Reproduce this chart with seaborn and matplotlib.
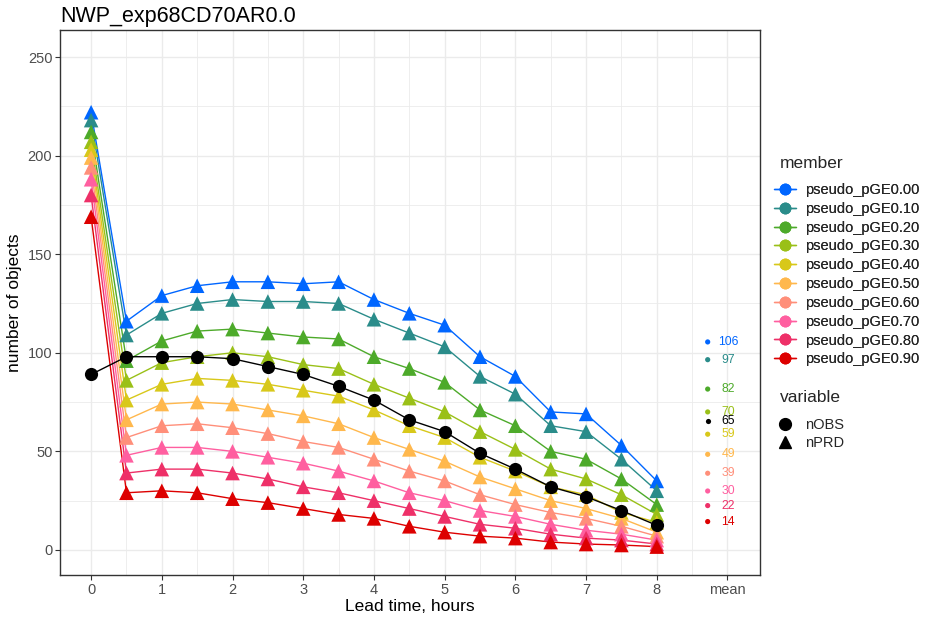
import numpy as np
import pandas as pd
import matplotlib
matplotlib.use("Agg")
import matplotlib.pyplot as plt
import seaborn as sns
from matplotlib.lines import Line2D

# ---------------- data ----------------
lead_hours = [0, 0.5, 1, 1.5, 2, 2.5, 3, 3.5, 4, 4.5, 5, 5.5, 6, 6.5, 7, 7.5, 8]
members = ["pseudo_pGE0.00", "pseudo_pGE0.10", "pseudo_pGE0.20", "pseudo_pGE0.30",
           "pseudo_pGE0.40", "pseudo_pGE0.50", "pseudo_pGE0.60", "pseudo_pGE0.70",
           "pseudo_pGE0.80", "pseudo_pGE0.90"]
member_colors = ["#0066FF", "#2A8C8A", "#4DAA2A", "#9AC018", "#D8C81A",
                 "#FFB84D", "#FF8F7A", "#FF5FA0", "#EE3068", "#DD0000"]

nPRD_pGE000 = [222, 116, 129, 134, 136, 136, 135, 136, 127, 120, 114, 98, 88, 70, 69, 53, 35]
nPRD_pGE010 = [218, 109, 120, 125, 127, 126, 126, 125, 117, 110, 103, 88, 79, 63, 60, 46, 30]
nPRD_pGE020 = [212, 96, 106, 111, 112, 110, 108, 107, 98, 92, 85, 71, 63, 50, 46, 36, 23]
nPRD_pGE030 = [207, 86, 95, 98, 100, 98, 94, 92, 84, 77, 70, 60, 51, 41, 36, 28, 18]
nPRD_pGE040 = [203, 76, 84, 87, 86, 84, 81, 78, 71, 63, 57, 47, 40, 32, 28, 19, 14]
nPRD_pGE050 = [199, 66, 74, 75, 74, 71, 68, 64, 57, 51, 45, 37, 31, 25, 21, 16, 9]
nPRD_pGE060 = [194, 57, 63, 64, 62, 59, 55, 52, 46, 40, 35, 28, 23, 19, 16, 12, 7]
nPRD_pGE070 = [188, 48, 52, 52, 50, 47, 44, 40, 35, 29, 25, 20, 17, 13, 10, 8, 5]
nPRD_pGE080 = [180, 39, 41, 41, 39, 36, 32, 29, 25, 21, 17, 13, 11, 8, 6, 5, 3]
nPRD_pGE090 = [169, 29, 30, 29, 26, 24, 21, 18, 16, 12, 9, 7, 6, 4, 3, 2.5, 1.7]
nOBS = [89, 98, 98, 98, 97, 93, 89, 83, 76, 66, 60, 49, 41, 32, 27, 20, 12.5]

mean_labels = ["106", "97", "82", "70", "59", "49", "39", "30", "22", "14"]
mean_values = [105.5, 96.5, 81.6, 70, 58.7, 48.5, 38.9, 29.9, 22.5, 14.4]
obs_mean_label = "65"
obs_mean_value = 65.3

x_ticks = [0, 1, 2, 3, 4, 5, 6, 7, 8, 9]
x_ticklabels = ["0", "1", "2", "3", "4", "5", "6", "7", "8", "mean"]
y_ticks = [0, 50, 100, 150, 200, 250]

prd_series = [nPRD_pGE000, nPRD_pGE010, nPRD_pGE020, nPRD_pGE030, nPRD_pGE040,
              nPRD_pGE050, nPRD_pGE060, nPRD_pGE070, nPRD_pGE080, nPRD_pGE090]
rows = []
for m, vals in zip(members, prd_series):
    for h, v in zip(lead_hours, vals):
        rows.append({"lead": h, "member": m, "value": v})
df_prd = pd.DataFrame(rows)
df_obs = pd.DataFrame({"lead": lead_hours, "value": nOBS})
df_mean = pd.DataFrame({"member": members, "label": mean_labels, "value": mean_values})

# ---------------- style ----------------
sns.set_theme(style="whitegrid")
plt.rcParams["font.family"] = ["Liberation Sans", "DejaVu Sans"]

fig = plt.figure(figsize=(9.25, 6.17), dpi=100)
ax = fig.add_axes([60 / 925, 42 / 617, 700 / 925, 545 / 617])
palette = dict(zip(members, member_colors))

# lines (reverse order so blue ends on top)
sns.lineplot(data=df_prd, x="lead", y="value", hue="member", palette=palette,
             hue_order=members[::-1], lw=1.0, ax=ax, legend=False, zorder=3)
sns.scatterplot(data=df_prd, x="lead", y="value", hue="member", palette=palette,
                hue_order=members[::-1], marker="^", s=110, linewidth=0,
                ax=ax, legend=False, zorder=4)
sns.lineplot(data=df_obs, x="lead", y="value", color="black", lw=1.0, ax=ax,
             legend=False, zorder=5)
sns.scatterplot(data=df_obs, x="lead", y="value", color="black", marker="o",
                s=90, linewidth=0, ax=ax, legend=False, zorder=6)

# mean column
mean_dot_x = 8.72
mean_text_x = 9.01
sns.scatterplot(data=df_mean, x=[mean_dot_x] * len(members), y="value", hue="member",
                palette=palette, s=14, linewidth=0, ax=ax, legend=False, zorder=6)
for lab, v, c in zip(mean_labels, mean_values, member_colors):
    ax.text(mean_text_x, v, lab, color=c, fontsize=8.8, ha="center", va="center", zorder=7)
ax.scatter([mean_dot_x], [obs_mean_value], s=14, color="black", linewidths=0, zorder=6)
ax.text(mean_text_x, obs_mean_value, obs_mean_label, color="black", fontsize=8.8,
        ha="center", va="center", zorder=7)

# axes
ax.set_xlim(-0.44, 9.46)
ax.set_ylim(-12.7, 263.7)
ax.set_xticks(x_ticks)
ax.set_xticklabels(x_ticklabels)
ax.set_yticks(y_ticks)
ax.set_xticks(np.arange(0.5, 9.5, 1.0), minor=True)
ax.set_yticks(np.arange(25, 260, 50), minor=True)
ax.grid(True, which="major", color="#EBEBEB", lw=1.0)
ax.grid(True, which="minor", color="#EBEBEB", lw=0.6)
ax.set_axisbelow(True)
ax.set_facecolor("white")
for sp in ax.spines.values():
    sp.set_color("#333333")
    sp.set_linewidth(1.0)
    sp.set_visible(True)
ax.tick_params(axis="both", which="major", length=3.5, width=0.8, color="#333333",
               labelsize=10.5, labelcolor="#4D4D4D", pad=2, bottom=True, left=True)
ax.tick_params(axis="both", which="minor", length=0)
ax.set_xlabel("Lead time, hours", fontsize=12.5, color="black", labelpad=2)
ax.set_ylabel("number of objects", fontsize=12.5, color="black", labelpad=4)
ax.set_title("NWP_exp68CD70AR0.0", fontsize=15.5, loc="left", x=0.0, pad=6, color="black")

# legends (titles drawn as separate texts for precise spacing)
fig.text(780 / 925, 1 - 163 / 617, "member", fontsize=12.5, ha="left", va="center")
member_handles = [Line2D([0], [0], color=c, lw=1.0, marker="o", markersize=8.5,
                         markeredgewidth=0) for c in member_colors]
leg1 = fig.legend(member_handles, members, loc="upper left",
                  bbox_to_anchor=(774 / 925, 1 - 183 / 617), frameon=False,
                  fontsize=10.5, handlelength=1.5,
                  handletextpad=0.6, labelspacing=0.33,
                  borderaxespad=0, borderpad=0)
fig.text(780 / 925, 1 - 398 / 617, "variable", fontsize=12.5, ha="left", va="center")
var_handles = [Line2D([0], [0], color="black", lw=0, marker="o", markersize=8.5),
               Line2D([0], [0], color="black", lw=0, marker="^", markersize=9)]
leg2 = fig.legend(var_handles, ["nOBS", "nPRD"], loc="upper left",
                  bbox_to_anchor=(774 / 925, 1 - 418 / 617), frameon=False,
                  fontsize=10.5, handlelength=1.5,
                  handletextpad=0.6, labelspacing=0.25,
                  borderaxespad=0, borderpad=0)
fig.add_artist(leg1)

fig.savefig("out.png", dpi=100, facecolor="white")
